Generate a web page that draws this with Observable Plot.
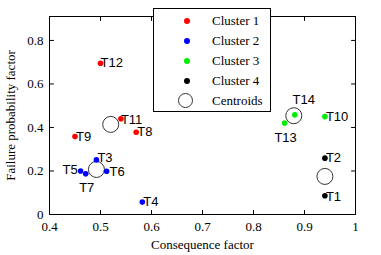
<!DOCTYPE html>
<html><head><meta charset="utf-8">
<script src="https://cdn.jsdelivr.net/npm/d3@7"></script>
<script src="https://cdn.jsdelivr.net/npm/@observablehq/plot@0.6"></script>
<style>
body{margin:0;background:#fff;}
#wrap{position:relative;width:381px;height:255px;}
#legend{position:absolute;left:153px;top:8px;width:116px;height:102px;border:1px solid #000;background:#fff;font-family:"Liberation Serif","Times New Roman","DejaVu Serif",serif;font-size:13px;}
.row{position:absolute;left:0;height:20px;width:116px;}
.mk{position:absolute;border-radius:50%;}
.lt{position:absolute;left:58px;line-height:20px;top:0;color:#000;}
</style></head>
<body><div id="wrap"></div>
<script>
const names = ["T1","T2","T3","T4","T5","T6","T7","T8","T9","T10","T11","T12","T13","T14"];
const consequence = [0.94,0.94,0.492,0.582,0.461,0.512,0.471,0.57,0.45,0.94,0.54,0.50,0.861,0.881];
const failure = [0.086,0.259,0.251,0.057,0.200,0.199,0.187,0.378,0.358,0.450,0.440,0.695,0.420,0.458];
const cluster = [4,4,2,2,2,2,2,1,1,3,1,1,3,3];
const centroidX = [0.52,0.492,0.879,0.94];
const centroidY = [0.414,0.207,0.454,0.175];
const clusterNames = ["Cluster 1","Cluster 2","Cluster 3","Cluster 4"];
const clusterColors = ["#ff0000","#0000ff","#00ee00","#000000"];
const xTicks = [0.4,0.5,0.6,0.7,0.8,0.9,1];
const yTicks = [0,0.2,0.4,0.6,0.8];
// label placement (style): [dx, dy, anchor]
const labelPlace = {T1:[1,1,"start"],T2:[1,0,"start"],T3:[1,-2,"start"],T4:[1,0,"start"],T5:[-3,-1,"end"],
  T6:[3,1,"start"],T7:[1,14,"middle"],T8:[1,0,"start"],T9:[1,0,"start"],T10:[1,0,"start"],
  T11:[0,1,"start"],T12:[0,0,"start"],T13:[1,15,"middle"],T14:[9,-15,"middle"]};

const serif = "'Liberation Serif','Times New Roman','DejaVu Serif',serif";
const pts = names.map((n,i)=>({name:n,x:consequence[i],y:failure[i],c:clusterNames[cluster[i]-1]}));
const cents = centroidX.map((x,i)=>({x,y:centroidY[i]}));
const fmt = d => String(+d.toFixed(2));
const perLabel = pts.map(p => { const [dx,dy,a] = labelPlace[p.name];
  return Plot.text([p], {x:"x",y:"y",text:"name",textAnchor:a,dx,dy,
  fontFamily:"'Liberation Sans',Arial,sans-serif",fontSize:13,fill:"#000"}); });
const tickShape = {draw(ctx, l){ ctx.moveTo(0,0); ctx.lineTo(0,-l); }};
const inTick = (data, ch, frameAnchor, rotate) =>
  Plot.vector(data, {[ch]: d=>d, frameAnchor, rotate, length:4, anchor:"start", shape:tickShape, stroke:"#000", strokeWidth:1});

const chart = Plot.plot({
  width:381, height:255,
  marginLeft:49, marginRight:26, marginTop:16, marginBottom:41,
  style:{fontFamily:serif, fontSize:"13px", color:"#000", background:"#fff"},
  x:{domain:[0.4,1]},
  y:{domain:[0,0.91]},
  color:{domain:clusterNames, range:clusterColors},
  marks:[
    Plot.frame({stroke:"#000"}),
    Plot.axisX(xTicks,{anchor:"bottom",tickSize:0,tickPadding:7,tickFormat:fmt,fontFamily:serif,label:"Consequence factor",labelArrow:"none",labelAnchor:"center",labelOffset:34}),
    Plot.axisY(yTicks,{anchor:"left",tickSize:0,tickPadding:6,tickFormat:fmt,fontFamily:serif,label:"Failure probability factor",labelArrow:"none",labelAnchor:"center",labelOffset:44}),
    inTick(xTicks,"x","bottom",0),
    inTick(xTicks,"x","top",180),
    inTick(yTicks,"y","left",90),
    inTick(yTicks,"y","right",-90),
    Plot.dot(cents,{x:"x",y:"y",r:8,stroke:"#333",strokeWidth:1,fill:"none"}),
    Plot.dot(pts,{x:"x",y:"y",r:2.8,fill:"c",stroke:null}),
    ...perLabel
  ]
});
const wrap = document.getElementById("wrap");
wrap.appendChild(chart);
const lg = document.createElement("div"); lg.id="legend";
clusterNames.forEach((n,i)=>{
  const r=document.createElement("div"); r.className="row"; r.style.top=(2+i*20)+"px";
  const m=document.createElement("div"); m.className="mk";
  m.style.cssText=`left:30px;top:7px;width:6px;height:6px;background:${clusterColors[i]}`;
  const t=document.createElement("div"); t.className="lt"; t.textContent=n;
  r.appendChild(m); r.appendChild(t); lg.appendChild(r);
});
const r=document.createElement("div"); r.className="row"; r.style.top=(2+4*20)+"px";
const m=document.createElement("div"); m.className="mk";
m.style.cssText="left:24px;top:2px;width:15px;height:15px;border:1px solid #333;box-sizing:border-box";
const t=document.createElement("div"); t.className="lt"; t.textContent="Centroids";
r.appendChild(m); r.appendChild(t); lg.appendChild(r);
wrap.appendChild(lg);
</script></body></html>
